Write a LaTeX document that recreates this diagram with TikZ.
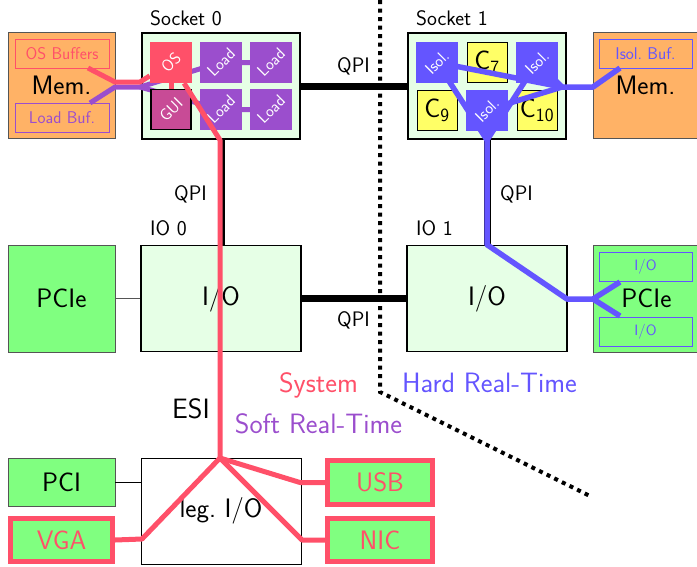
\documentclass[tikz,border=0pt]{standalone}
\usepackage{fontspec}
\usepackage{graphicx}
\renewcommand{\familydefault}{\sfdefault}

\definecolor{sysred}{RGB}{255,80,105}
\definecolor{softpurple}{RGB}{155,78,205}
\definecolor{hardblue}{RGB}{100,85,255}
\definecolor{guimag}{RGB}{200,75,150}
\definecolor{memorange}{RGB}{255,178,102}
\definecolor{devgreen}{RGB}{128,255,128}
\definecolor{hubgreen}{RGB}{230,255,230}
\definecolor{coreyellow}{RGB}{255,255,102}
\definecolor{edgegray}{RGB}{85,85,85}

\newcommand\fbig{\sffamily\fontsize{26.7}{31}\selectfont}
\newcommand\fdomain{\sffamily\fontsize{28}{32}\selectfont}
\newcommand\flabel{\sffamily\fontsize{21}{25}\selectfont}
\newcommand\fbuf{\sffamily\fontsize{17}{20}\selectfont}
\newcommand\fcore{\sffamily\fontsize{16.5}{20}\selectfont}
\newcommand\fsmallio{\sffamily\fontsize{15}{18}\selectfont}

\begin{document}
\begin{tikzpicture}[x=1pt,y=-1pt,font=\sffamily,
  every node/.style={inner sep=0pt},
  membox/.style={draw=edgegray,line width=0.8pt,fill=memorange,minimum width=107pt,minimum height=106pt,font=\fbig},
  devbox/.style={draw=edgegray,line width=0.8pt,fill=devgreen,minimum width=107pt,font=\fbig},
  sysdev/.style={draw=sysred,line width=5pt,fill=devgreen,text=sysred,font=\fbig},
  bufbox/.style={draw=#1,line width=0.8pt,text=#1,minimum width=94pt,minimum height=29pt,font=\fbuf},
  socketbox/.style={draw=black,line width=2.4pt,fill=hubgreen,minimum width=158pt,minimum height=106pt},
  iobox/.style={draw=black,line width=1.6pt,fill=hubgreen,minimum width=160pt,minimum height=106pt,font=\fbig},
  core/.style={fill=#1,text=white,minimum width=42pt,minimum height=41pt,font=\fcore},
  plaincore/.style={draw=black,line width=0.8pt,fill=coreyellow,minimum width=40pt,minimum height=40pt,font=\fbig},
  qpi/.style={line width=7pt,black},
  syspath/.style={line width=5pt,sysred,line join=round},
  softpath/.style={line width=5pt,softpurple,line join=round},
  hardpath/.style={line width=5.5pt,hardblue,line join=round},
  tag/.style={font=\flabel},
  domain/.style={font=\fdomain,text=#1}]
\useasboundingbox (0,0) rectangle (697,566);

% ---- memory, sockets, I/O hubs and devices ----
\node[membox] (memL) at (61.5,85.5) {Mem.};
\node[bufbox=sysred] (osbuf) at (62,53.5) {OS Buffers};
\node[bufbox=softpurple] (loadbuf) at (62,118) {Load Buf.};

\node[socketbox] (sock0) at (221,86) {};
\node[socketbox] (sock1) at (487,86) {};

\node[membox] (memR) at (646.5,85.5) {\hspace*{-2pt}Mem.};
\node[bufbox=hardblue,minimum width=93pt] (isolbuf) at (645.5,53.5) {Isol.\ Buf.};

\node[iobox] (io0) at (221,298.5) {I/O};
\node[iobox] (io1) at (487,298.5) {I/O};
\node[devbox,minimum height=107pt] (pcieL) at (61.5,298.5) {PCIe};
\node[devbox,minimum height=107pt] (pcieR) at (646.5,298.5) {PCIe};
\node[bufbox=hardblue,minimum width=93pt,font=\fsmallio] (pio1) at (645.5,266.5) {I/O};
\node[bufbox=hardblue,minimum width=93pt,font=\fsmallio] (pio2) at (645.5,331.5) {I/O};

\node[draw=black,line width=0.8pt,fill=white,minimum width=160pt,minimum height=106pt,font=\fbig] (leg) at (221,511) {leg.\ I/O};
\node[devbox,minimum height=48pt] (pci) at (61.5,482) {PCI};
\node[sysdev,minimum width=102pt,minimum height=43pt] (vga) at (61.5,540) {VGA};
\node[sysdev,minimum width=105pt,minimum height=44pt] (usb) at (380,482.5) {USB};
\node[sysdev,minimum width=105pt,minimum height=43pt] (nic) at (380,540) {NIC};

% ---- plain links ----
\draw[edgegray,line width=0.8pt] (pcieL) -- (io0);
\draw[black,line width=0.8pt] (pci) -- (pci -| leg.west);
\draw[qpi] (sock0) -- (sock1);
\draw[qpi] (io0) -- (io1);
\draw[qpi] (sock0.south) -- (io0.north);
\draw[qpi] (sock1.south) -- (io1.north);

% ---- socket 0: cores with soft real-time paths underneath ----
\coordinate (softA) at (90,103);
\coordinate (softB) at (115,87);
\coordinate (softC) at (140,87);
\coordinate (osc) at (171,62.5);
\coordinate (guic) at (171,109.5);
\coordinate (l1c) at (221,62.5);
\coordinate (l2c) at (271,62.5);
\coordinate (l3c) at (221,109.5);
\coordinate (l4c) at (271,109.5);
\draw[softpath] (softA) -- (softB) -- (softC) -- (l1c) -- (l2c);
\draw[softpath] (softC) -- (l3c) -- (l4c);
\draw[syspath] (osc) -- (guic);

\node[core=sysred] (os) at (osc) {\rotatebox{45}{OS}};
\node[core=softpurple] (load1) at (l1c) {\rotatebox{45}{Load}};
\node[core=softpurple] (load2) at (l2c) {\rotatebox{45}{Load}};
\node[core=guimag,draw=black,line width=1.2pt,minimum width=40pt,minimum height=40pt] (gui) at (guic) {\rotatebox{45}{GUI}};
\node[core=softpurple] (load3) at (l3c) {\rotatebox{45}{Load}};
\node[core=softpurple] (load4) at (l4c) {\rotatebox{45}{Load}};

% ---- system path ----
\coordinate (sysA) at (88,68);
\coordinate (sysB) at (115,82);
\coordinate (sysC) at (140,82);
\coordinate (sysdrop) at (220,140);
\coordinate (sysfork) at (220,458);
\coordinate (vgabend) at (142,539);
\coordinate (usbbend) at (300,482.5);
\coordinate (nicbend) at (302,540);
\draw[syspath] (sysA) -- (sysB) -- (sysC) -- (os);
\draw[syspath] (os) -- (sysdrop) -- (sysfork);
\draw[syspath] (sysfork) -- (vgabend) -- (vga.east);
\draw[syspath] (sysfork) -- (usbbend) -- (usb.west);
\draw[syspath] (sysfork) -- (nicbend) -- (nic.west);

% ---- socket 1: plain cores, hard real-time paths, isolated cores ----
\node[plaincore] (c7) at (487,62.5) {C\textsubscript{7}};
\node[plaincore] (c9) at (437,110) {C\textsubscript{9}};
\node[plaincore] (c10) at (537,110) {C\textsubscript{10}};

\coordinate (i1c) at (437,62.5);
\coordinate (i2c) at (537,62.5);
\coordinate (i3c) at (487,110);
\coordinate (hardhub) at (562,87);
\coordinate (hardjoin) at (487,140);
\coordinate (hardmem) at (593,87);
\coordinate (hardbuf) at (620,68);
\draw[hardpath] (i1c) -- (hardhub);
\draw[hardpath] (i2c) -- (hardhub);
\draw[hardpath] (i3c) -- (hardhub) -- (hardmem) -- (hardbuf);
\draw[hardpath] (i1c) -- (hardjoin);
\draw[hardpath] (i2c) -- (hardjoin);
\draw[hardpath] (i3c) -- (hardjoin);

\node[core=hardblue] (isol1) at (i1c) {\rotatebox{45}{Isol.}};
\node[core=hardblue] (isol2) at (i2c) {\rotatebox{45}{Isol.}};
\node[core=hardblue] (isol3) at (i3c) {\rotatebox{45}{Isol.}};

\coordinate (hardio) at (567,299);
\coordinate (hardpcie) at (593,299);
\coordinate (pcieup) at (620,282);
\coordinate (pciedn) at (620,316);
\draw[hardpath] (hardjoin) -- (io1.north) -- (hardio) -- (hardpcie) -- (pcieup);
\draw[hardpath] (hardpcie) -- (pciedn);

% ---- partition boundary ----
\draw[black,line width=4pt,dash pattern=on 4pt off 4.5pt] (380,0) -- (380,392) -- (592,497);

% ---- labels ----
\node[tag,anchor=base west] (s0lbl) at (150,25) {Socket 0};
\node[tag,anchor=base west] (s1lbl) at (416,25) {Socket 1};
\node[tag,anchor=base west] (io0lbl) at (150,235) {IO 0};
\node[tag,anchor=base west] (io1lbl) at (416,235) {IO 1};
\node[tag,anchor=base east] (qpitop) at (370,72) {QPI};
\node[tag,anchor=base east] (qpimid) at (370,326) {QPI};
\node[tag,anchor=base east] (qpileft) at (207,200) {QPI};
\node[tag,anchor=base west] (qpiright) at (500,200) {QPI};
\node[font=\fdomain,anchor=base east] (esi) at (210,418) {ESI};
\node[domain=sysred,anchor=base] (sysl) at (318.5,392) {System};
\node[domain=softpurple,anchor=base] (softl) at (318.5,433) {Soft Real-Time};
\node[domain=hardblue,anchor=base] (hardl) at (489.5,392) {Hard Real-Time};
\end{tikzpicture}
\end{document}
